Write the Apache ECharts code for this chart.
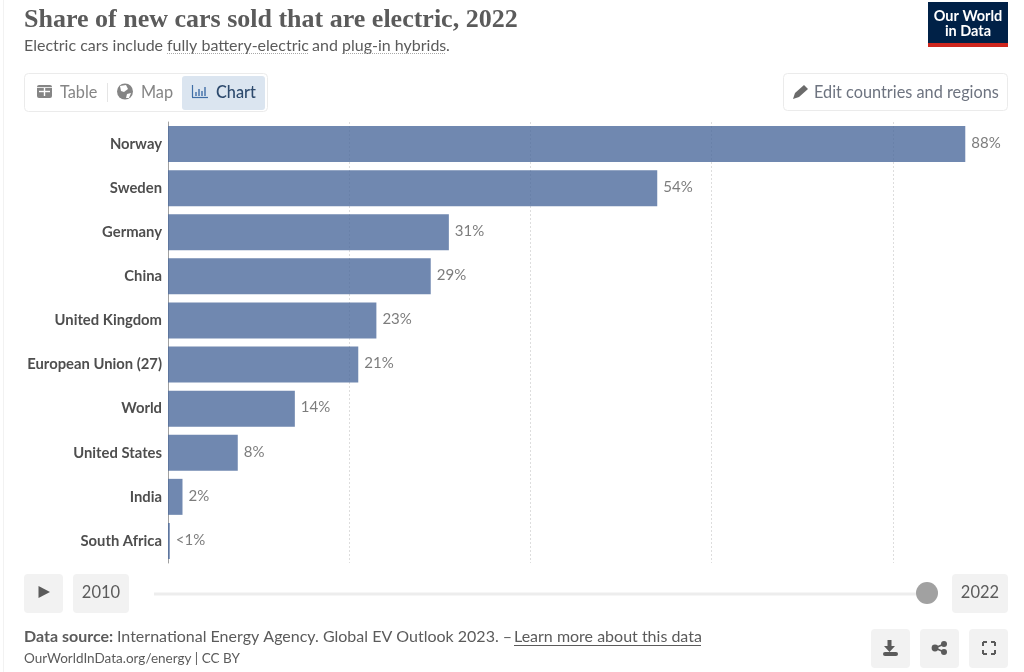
<!DOCTYPE html>
<html><head><meta charset="utf-8">
<style>html,body{margin:0;padding:0;background:#fff}#c{width:1024px;height:672px}</style>
<script src="https://cdn.jsdelivr.net/npm/echarts@6/dist/echarts.min.js"></script>
</head><body><div id="c"></div>
<script>
const categories = ['Norway','Sweden','Germany','China','United Kingdom','European Union (27)','World','United States','India','South Africa'];
const shares = [88, 54, 31, 29, 23, 21, 14, 7.7, 1.6, 0.2];
const shareLabels = ['88%','54%','31%','29%','23%','21%','14%','8%','2%','<1%'];
const firstYear = '2010';
const lastYear = '2022';

const TXT = '#5b5b5b', F = 'Lato';
const text = (x,y,t,o={}) => ({type:'text',silent:true,x,y,style:Object.assign({text:t,fill:TXT,font:`${o.weight||'normal'} ${o.size||15}px ${o.family||F}`,textAlign:o.align||'left',textVerticalAlign:'middle'},o.fill?{fill:o.fill}:{})});
const box = (x,y,w,h,fill,stroke,r=4) => ({type:'rect',silent:true,shape:{x,y,width:w,height:h,r},style:{fill:fill,stroke:stroke||null,lineWidth:1}});
const line = (x1,y1,x2,y2,stroke,w=1,dash) => ({type:'line',silent:true,shape:{x1,y1,x2,y2},style:{stroke,lineWidth:w,lineDash:dash||null}});
const poly = (pts,fill) => ({type:'polygon',silent:true,shape:{points:pts},style:{fill}});
const circ = (cx,cy,r,fill,stroke,w) => ({type:'circle',silent:true,shape:{cx,cy,r},style:{fill:fill,stroke:stroke||null,lineWidth:w||1}});
const ICON='#858585', DK='#5b5b5b';

const ui = [
  line(3.5,0,3.5,672,'#f2f2f2',1),
  text(24,20,'Share of new cars sold that are electric, 2022',{family:'"Liberation Serif"',weight:'bold',size:26}),
  text(24,46,'Electric cars include',{size:16}),
  text(167,46,'fully battery-electric',{size:16}),
  line(167,53.5,308,53.5,'#a8a8a8',1,[1,1]),
  text(312,46,'and',{size:16}),
  text(342,46,'plug-in hybrids',{size:16}),
  line(342,53.5,446,53.5,'#a8a8a8',1,[1,1]),
  text(446,46,'.',{size:16}),
  // logo
  box(928,2,80,45,'#002147',null,0),
  box(928,43,80,4,'#ce261e',null,0),
  text(968,16,'Our World',{size:14.5,weight:'bold',fill:'#fff',align:'center'}),
  text(968,31,'in Data',{size:14.5,weight:'bold',fill:'#fff',align:'center'}),
  // tabs
  box(24.5,73.5,243,38,'#fff','#ebebeb'),
  box(182,76,83,34,'#dbe5f0',null,3),
  box(37,85,15,13,'#858585',null,2),
  line(39,91.5,50,91.5,'#fff',1.4),
  line(44.5,88,44.5,96,'#fff',1.4),
  line(37,87.5,52,87.5,'#fff',0.8),
  text(60,92.5,'Table',{size:16.3,fill:ICON}),
  line(107.5,83,107.5,102,'#e5e5e5',1),
  circ(125,91.5,8,'#858585'),
  poly([[120,86],[126,85],[128,89],[124,92],[121,91]],'#fff'),
  poly([[127,94],[131,93],[129,98],[126,98]],'#fff'),
  text(141,92.5,'Map',{size:16.3,fill:ICON}),
  line(192.5,85,192.5,97,'#3f6ea6',1.2),
  line(192,97.5,208,97.5,'#3f6ea6',1.2),
  line(196,92,196,96,'#3f6ea6',1.4),line(199,89,199,96,'#3f6ea6',1.4),line(202,91,202,96,'#3f6ea6',1.4),line(205,87,205,96,'#3f6ea6',1.4),
  text(216,92.5,'Chart',{size:16.3,weight:'500',fill:'#2d4a6d'}),
  // edit
  box(783.5,73.5,224,37,'#fff','#ebebeb'),
  poly([[793,99],[795,93],[804,85],[808,89],[799,97]],'#6b6b6b'),
  text(814,92.5,'Edit countries and regions',{size:16.3,fill:'#6e7480'}),
  // timeline
  box(24,574,39,39,'#f2f2f2'),
  poly([[38.5,586],[50,592],[38.5,598]],DK),
  box(73,574,56,39,'#f2f2f2'),
  text(101,592.5,firstYear,{size:16.5,align:'center'}),
  line(154,594,916,594,'#ededed',3),
  circ(927,593,11,'#a1a1a1'),
  box(952,574,56,39,'#f2f2f2'),
  text(980,592.5,lastYear,{size:16.5,align:'center'}),
  // footer
  text(24,637,'Data source:',{size:16,weight:'bold'}),
  text(117,637,'International Energy Agency. Global EV Outlook 2023. –',{size:16}),
  text(514,637,'Learn more about this data',{size:16}),
  line(514,645.5,701,645.5,'#5b5b5b',1),
  text(24,659,'OurWorldInData.org/energy | CC BY',{size:13.5}),
  // action buttons
  box(871,629,39,39,'#f2f2f2'),
  poly([[887.5,640],[891.5,640],[891.5,646],[895,646],[889.5,652],[884,646],[887.5,646]],DK),
  box(883,652,15,4,DK,null,2),
  box(920,629,39,39,'#f2f2f2'),
  line(935,648,944,644,DK,1.8),line(935,648,944,652,DK,1.8),
  circ(935,648,3.4,DK),circ(944,644,3,DK),circ(944,652,3,DK),
  box(969,629,39,39,'#f2f2f2'),
  ...[[983,642,1,1],[995,642,-1,1],[983,654,1,-1],[995,654,-1,-1]].flatMap(([x,y,a,b])=>[line(x,y,x+4*a,y,DK,2),line(x,y,x,y+4*b,DK,2)])
];

const chart = echarts.init(document.getElementById('c'), null, {renderer:'canvas'});
chart.setOption({
  animation:false,
  backgroundColor:'#fff',
  grid:{left:168,top:122,width:815.4,height:441,containLabel:false},
  xAxis:{type:'value',min:0,max:90,interval:20,
    axisLine:{show:false},axisTick:{show:false},axisLabel:{show:false},
    splitLine:{show:true,showMinLine:false,showMaxLine:false,lineStyle:{color:'#dddddd',type:[2,2],width:1}}},
  yAxis:{type:'category',inverse:true,data:categories,
    axisLine:{show:true,lineStyle:{color:'#a1a1a1',width:1}},axisTick:{show:false},
    axisLabel:{margin:6,color:'#4e4e4e',fontFamily:F,fontSize:14.8,fontWeight:'bold',padding:[0,0,2,0]}},
  series:[{type:'bar',data:shares,barWidth:36,
    itemStyle:{color:'#4C6A9C',opacity:0.8,borderWidth:0},
    label:{show:true,position:'right',distance:6,offset:[0,-1],color:'#5b5b5b',fontFamily:F,fontSize:15,
      formatter:p=>shareLabels[p.dataIndex]}}],
  graphic:{elements:ui}
});
</script></body></html>
